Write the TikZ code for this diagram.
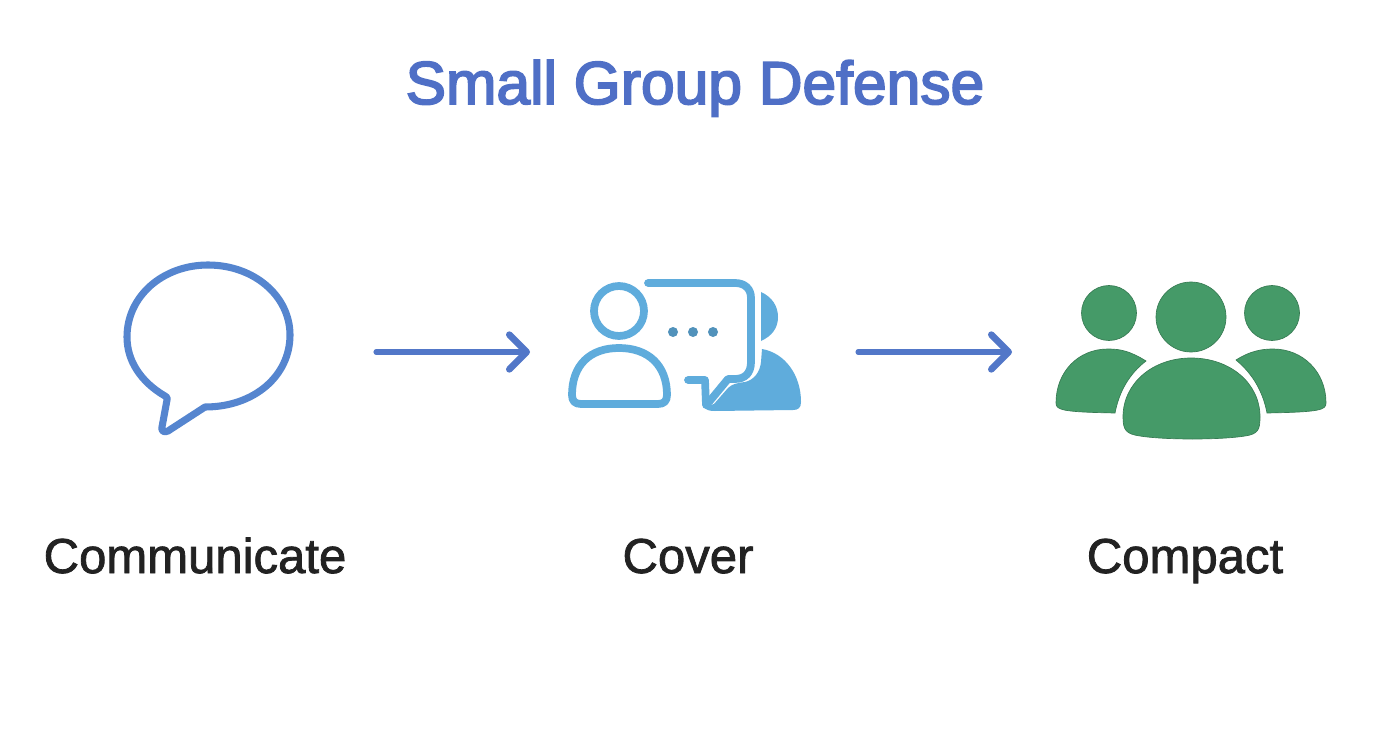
\documentclass[tikz,border=0pt]{standalone}
\usepackage{fontspec}
\setmainfont{Liberation Sans}
\newfontfamily\titlefont[FakeBold=3]{Liberation Sans}
\newfontfamily\labelfont[FakeBold=1.6]{Liberation Sans}
\usetikzlibrary{arrows.meta}
\definecolor{titleblue}{HTML}{4F6FC6}
\definecolor{arrowblue}{HTML}{5277C8}
\definecolor{bubbleblue}{HTML}{5585CF}
\definecolor{skyblue}{HTML}{5FACDC}
\definecolor{teamgreen}{HTML}{459A68}
\definecolor{labelink}{HTML}{222222}
\tikzset{
  x=0.75pt,y=-0.75pt,
  titletext/.style={font=\titlefont\fontsize{45.4}{50}\selectfont,text=titleblue,inner sep=0,anchor=base},
  labeltext/.style={font=\labelfont\fontsize{36.8}{40}\selectfont,text=labelink,inner sep=0,anchor=base},
  flow/.style={draw=arrowblue,line width=3.8pt,line cap=round,-{Straight Barb[length=13pt,width=26pt,line width=5pt,round]}},
  bubble/.style={draw=bubbleblue,line width=5.3pt,line join=round},
  skyline/.style={draw=skyblue,line width=5.8pt,line cap=round,line join=round},
  skyfill/.style={fill=skyblue},
  teamfill/.style={fill=teamgreen,draw=teamgreen!80!black,line width=0.5pt}
}
\begin{document}
\begin{tikzpicture}
\useasboundingbox (0,0) rectangle (1392,752);
\fill[white] (0,0) rectangle (1392,752);
\node[titletext] (title) at (695,104) {Small Group Defense};
% speech bubble
\draw[bubble] (165,396)
  .. controls (141,382) and (127,361) .. (127,337)
  .. controls (127,296) and (163,265) .. (208,265)
  .. controls (254,265) and (290,296) .. (290,335)
  .. controls (290,376) and (254,407) .. (205,407)
  -- (168,431) .. controls (164,433) and (161,431) .. (162,427)
  -- (167,400) .. controls (168,398) and (167,397) .. (165,396) -- cycle;
% cover icon
\draw[skyline] (619,311) circle (25);
\draw[skyline] (572,395)
  .. controls (572,365) and (590,348) .. (619,348)
  .. controls (648,348) and (667,365) .. (667,395)
  .. controls (667,401) and (664,404) .. (658,404)
  -- (581,404) .. controls (575,404) and (572,401) .. (572,395) -- cycle;
\draw[skyline] (648,283) -- (735,283)
  .. controls (745,283) and (751,289) .. (751,298)
  -- (751,362) .. controls (751,373) and (745,379) .. (735,379)
  -- (728,379) -- (709,402);
\draw[skyline] (688,380) -- (705,380) -- (706,405);
\fill[skyfill] (761,292) .. controls (772,297) and (778,306) .. (778,317)
  .. controls (778,328) and (772,336) .. (761,341) -- cycle;
\fill[skyfill] (762,349) .. controls (785,353) and (801,375) .. (801,402)
  .. controls (801,408) and (798,410) .. (793,410)
  -- (715,411) .. controls (709,411) and (706,410) .. (704,407)
  -- (714,404) -- (728,388) .. controls (732,384) and (737,383) .. (745,382)
  .. controls (754,380) and (760,372) .. (761,362) -- cycle;
\foreach \px/\nm in {673/a,693/b,713/c}
  \fill[skyblue!85!black] (\px,332) circle (5);
% team icon
\fill[teamfill] (1109,313) circle (27.5);
\fill[teamfill] (1191,317) circle (35);
\fill[teamfill] (1272,313) circle (27.5);
\fill[teamfill] (1146,361) .. controls (1130,351) and (1120,349) .. (1108,349)
  .. controls (1078,349) and (1056,372) .. (1056,403)
  .. controls (1056,410) and (1062,412) .. (1115,413)
  .. controls (1119,392) and (1129,374) .. (1146,361) -- cycle;
\fill[teamfill] (1236,360) .. controls (1250,351) and (1262,349) .. (1273,349)
  .. controls (1303,349) and (1326,372) .. (1326,403)
  .. controls (1326,410) and (1320,412) .. (1267,413)
  .. controls (1263,392) and (1253,374) .. (1236,360) -- cycle;
\fill[teamfill] (1123,417) .. controls (1123,383) and (1153,358) .. (1191,358)
  .. controls (1230,358) and (1260,383) .. (1260,417)
  .. controls (1260,430) and (1258,434) .. (1245,436)
  .. controls (1220,440) and (1165,440) .. (1140,436)
  .. controls (1126,434) and (1123,430) .. (1123,417) -- cycle;
% arrows
\coordinate (from1) at (376,352);
\coordinate (to1) at (530,352);
\coordinate (from2) at (858,352);
\coordinate (to2) at (1012,352);
\draw[flow] (from1) -- (to1);
\draw[flow] (from2) -- (to2);
% labels
\node[labeltext] (l1) at (195,573) {Communicate};
\node[labeltext] (l2) at (688,573) {Cover};
\node[labeltext] (l3) at (1185,573) {Compact};
\end{tikzpicture}
\end{document}
